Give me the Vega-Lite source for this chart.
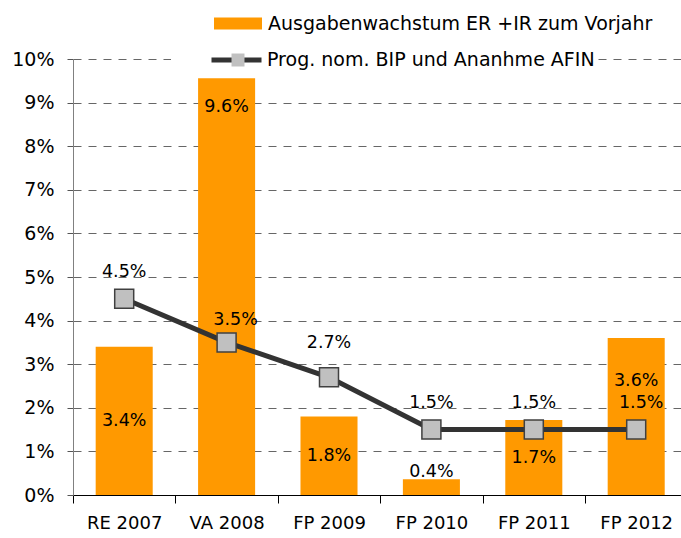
{
  "$schema": "https://vega.github.io/schema/vega-lite/v6.json",
  "autosize": {"type": "none"},
  "width": 608,
  "height": 436,
  "padding": {"left": 73, "top": 59, "right": 0, "bottom": 43},
  "background": "white",
  "config": {
    "font": "DejaVu Sans",
    "view": {"stroke": null},
    "text": {"fontSize": 17.5, "color": "#000000", "baseline": "middle"}
  },
  "data": {
    "values": [
      {"cat": "RE 2007", "ausgaben": 0.034, "bip": 0.045},
      {"cat": "VA 2008", "ausgaben": 0.0956, "bip": 0.035},
      {"cat": "FP 2009", "ausgaben": 0.018, "bip": 0.027},
      {"cat": "FP 2010", "ausgaben": 0.0036, "bip": 0.015},
      {"cat": "FP 2011", "ausgaben": 0.0172, "bip": 0.015},
      {"cat": "FP 2012", "ausgaben": 0.036, "bip": 0.015}
    ]
  },
  "encoding": {
    "x": {
      "field": "cat",
      "type": "nominal",
      "sort": null,
      "scale": {"range": [0, 614.4], "paddingInner": 0, "paddingOuter": 0},
      "axis": {
        "title": null,
        "labelAngle": 0,
        "labelFontSize": 18,
        "labelColor": "#000000",
        "labelPadding": 11,
        "tickBand": "extent",
        "tickSize": 8,
        "tickColor": "#000000",
        "domainColor": "#000000",
        "domainWidth": 1.2,
        "grid": false
      }
    }
  },
  "layer": [
    {
      "mark": {"type": "bar", "width": {"band": 0.557}},
      "encoding": {
        "y": {
          "field": "ausgaben",
          "type": "quantitative",
          "scale": {"domain": [0, 0.1], "nice": false},
          "axis": {
            "title": null,
            "values": [0, 0.01, 0.02, 0.03, 0.04, 0.05, 0.06, 0.07, 0.08, 0.09, 0.1],
            "format": ".0%",
            "labelFontSize": 19,
            "labelColor": "#000000",
            "labelPadding": 13,
            "tickSize": 6,
            "tickColor": "#555555",
            "domainColor": "#808080",
            "grid": true,
            "gridColor": "#666666",
            "gridDash": [8, 7],
            "gridWidth": 1
          }
        },
        "color": {
          "datum": "Ausgabenwachstum ER +IR zum Vorjahr",
          "scale": {"range": ["#FF9900"]},
          "legend": {
            "title": null,
            "orient": "none",
            "legendX": 141,
            "legendY": -45.5,
            "padding": 0,
            "clipHeight": 20,
            "symbolType": "M-1,-0.25H1V0.25H-1Z",
            "symbolSize": 2304,
            "symbolStrokeWidth": 0,
            "labelFontSize": 19,
            "labelColor": "#000000",
            "labelOffset": 6,
            "labelLimit": 500
          }
        }
      }
    },
    {
      "mark": {"type": "line", "strokeWidth": 5},
      "encoding": {
        "y": {"field": "bip", "type": "quantitative"},
        "stroke": {
          "datum": "Prog. nom. BIP und Ananhme AFIN",
          "scale": {"range": ["#333333"]},
          "legend": {
            "title": null,
            "orient": "none",
            "legendX": 98,
            "legendY": -9,
            "padding": 0,
            "clipHeight": 20,
            "fillColor": "white",
            "symbolType": "stroke",
            "symbolSize": 2500,
            "symbolStrokeWidth": 5,
            "symbolOffset": 38,
            "labelFontSize": 19,
            "labelColor": "#000000",
            "labelOffset": 3,
            "labelLimit": 700,
            "labelExpr": "datum.label + '\u00a0\u00a0\u00a0\u00a0\u00a0\u00a0\u00a0\u00a0\u00a0\u00a0\u00a0\u00a0\u00a0\u00a0\u00a0\u00a0\u00a0\u00a0'"
          }
        }
      }
    },
    {
      "mark": {"type": "point", "filled": true, "fill": "#C0C0C0", "stroke": "#404040", "strokeWidth": 1.5, "size": 361, "opacity": 1},
      "encoding": {
        "y": {"field": "bip", "type": "quantitative"},
        "shape": {
          "datum": "Marker",
          "scale": {"range": ["square"]},
          "legend": {
            "title": null,
            "orient": "none",
            "legendX": 156,
            "legendY": -9,
            "padding": 0,
            "clipHeight": 20,
            "symbolSize": 169,
            "symbolFillColor": "#C0C0C0",
            "symbolStrokeColor": "#404040",
            "symbolStrokeWidth": 1.5,
            "labelExpr": "''",
            "labelFontSize": 18
          }
        }
      }
    },
    {
      "transform": [
        {"filter": {"field": "cat", "oneOf": ["RE 2007", "FP 2009", "FP 2011"]}},
        {"calculate": "datum.ausgaben / 2", "as": "mid"}
      ],
      "mark": {"type": "text"},
      "encoding": {
        "y": {"field": "mid", "type": "quantitative"},
        "text": {"field": "ausgaben", "type": "quantitative", "format": ".1%"}
      }
    },
    {
      "transform": [{"filter": {"field": "cat", "equal": "VA 2008"}}],
      "mark": {"type": "text", "dy": 29},
      "encoding": {
        "y": {"field": "ausgaben", "type": "quantitative"},
        "text": {"field": "ausgaben", "type": "quantitative", "format": ".1%"}
      }
    },
    {
      "transform": [{"filter": {"field": "cat", "equal": "FP 2012"}}],
      "mark": {"type": "text", "dy": 43},
      "encoding": {
        "y": {"field": "ausgaben", "type": "quantitative"},
        "text": {"field": "ausgaben", "type": "quantitative", "format": ".1%"}
      }
    },
    {
      "transform": [{"filter": {"field": "cat", "equal": "FP 2010"}}],
      "mark": {"type": "text", "dy": -7},
      "encoding": {
        "y": {"field": "ausgaben", "type": "quantitative"},
        "text": {"field": "ausgaben", "type": "quantitative", "format": ".1%"}
      }
    },
    {
      "transform": [{"filter": {"field": "cat", "oneOf": ["RE 2007", "FP 2010", "FP 2011"]}}],
      "mark": {"type": "text", "dy": -27},
      "encoding": {
        "y": {"field": "bip", "type": "quantitative"},
        "text": {"field": "bip", "type": "quantitative", "format": ".1%"}
      }
    },
    {
      "transform": [{"filter": {"field": "cat", "equal": "VA 2008"}}],
      "mark": {"type": "text", "dy": -22, "dx": 9},
      "encoding": {
        "y": {"field": "bip", "type": "quantitative"},
        "text": {"field": "bip", "type": "quantitative", "format": ".1%"}
      }
    },
    {
      "transform": [{"filter": {"field": "cat", "equal": "FP 2009"}}],
      "mark": {"type": "text", "dy": -34},
      "encoding": {
        "y": {"field": "bip", "type": "quantitative"},
        "text": {"field": "bip", "type": "quantitative", "format": ".1%"}
      }
    },
    {
      "transform": [{"filter": {"field": "cat", "equal": "FP 2012"}}],
      "mark": {"type": "text", "dy": -27, "dx": 5},
      "encoding": {
        "y": {"field": "bip", "type": "quantitative"},
        "text": {"field": "bip", "type": "quantitative", "format": ".1%"}
      }
    }
  ]
}
